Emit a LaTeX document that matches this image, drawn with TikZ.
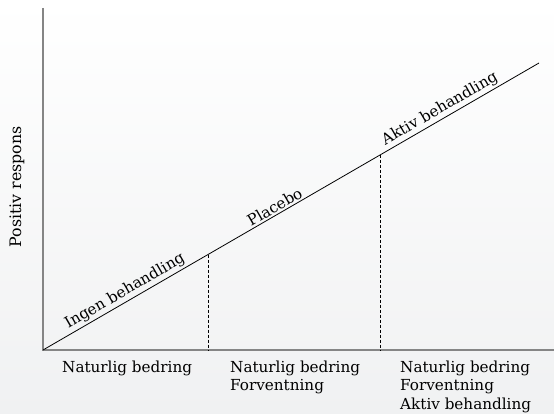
\documentclass[tikz,border=0pt]{standalone}
\usepackage{fontspec}
\setmainfont{DejaVu Serif}
\usetikzlibrary{positioning,calc}
\definecolor{bgbot}{HTML}{F0F1F2}
\definecolor{axisgray}{HTML}{858585}
\tikzset{
  axis/.style={axisgray,line width=1.5pt},
  trend/.style={black,line width=0.8pt},
  divider/.style={black,line width=0.7pt,dash pattern=on 3pt off 2pt},
  steplabel/.style={rotate=30,anchor=south,inner sep=2pt,font=\fontsize{15.2}{17}\selectfont},
  zonelabel/.style={anchor=base west,align=left,inner sep=0pt,font=\fontsize{15.2}{18.5}\selectfont}
}
\begin{document}
\begin{tikzpicture}[x=1pt,y=-1pt]
    \shade[top color=white,middle color=white,bottom color=bgbot] (0,0) rectangle (554,414);
    \useasboundingbox (0,0) rectangle (554,414);
    % axes
    \coordinate (O) at (43,350);
    \coordinate (Ytop) at (43,8);
    \coordinate (Xend) at (554,350);
    \draw[axis] (Ytop) -- (O) -- (Xend);
    \node[rotate=90,font=\fontsize{15.8}{18}\selectfont] (ylab) at (17,187) {Positiv respons};
    % response line
    \coordinate (E) at (539,63);
    \draw[trend] (O) -- (E);
    \coordinate (d1) at ($(O)!0.3327!(E)$);
    \coordinate (d2) at ($(O)!0.6808!(E)$);
    \draw[divider] (d1) -- (d1 |- O);
    \draw[divider] (d2) -- (d2 |- O);
    \node[steplabel] (ingen) at ($(O)!0.175!(E)$) {Ingen behandling};
    \node[steplabel] (placebo) at ($(O)!0.475!(E)$) {Placebo};
    \node[steplabel] (aktiv) at ($(O)!0.81!(E)$) {Aktiv behandling};
    % zones (base = last line)
    \node[zonelabel] (z1) at (62,372) {Naturlig bedring};
    \node[zonelabel] (z2) at (230,390.5) {Naturlig bedring\\Forventning};
    \node[zonelabel] (z3) at (400,409) {Naturlig bedring\\Forventning\\Aktiv behandling};
\end{tikzpicture}
\end{document}
